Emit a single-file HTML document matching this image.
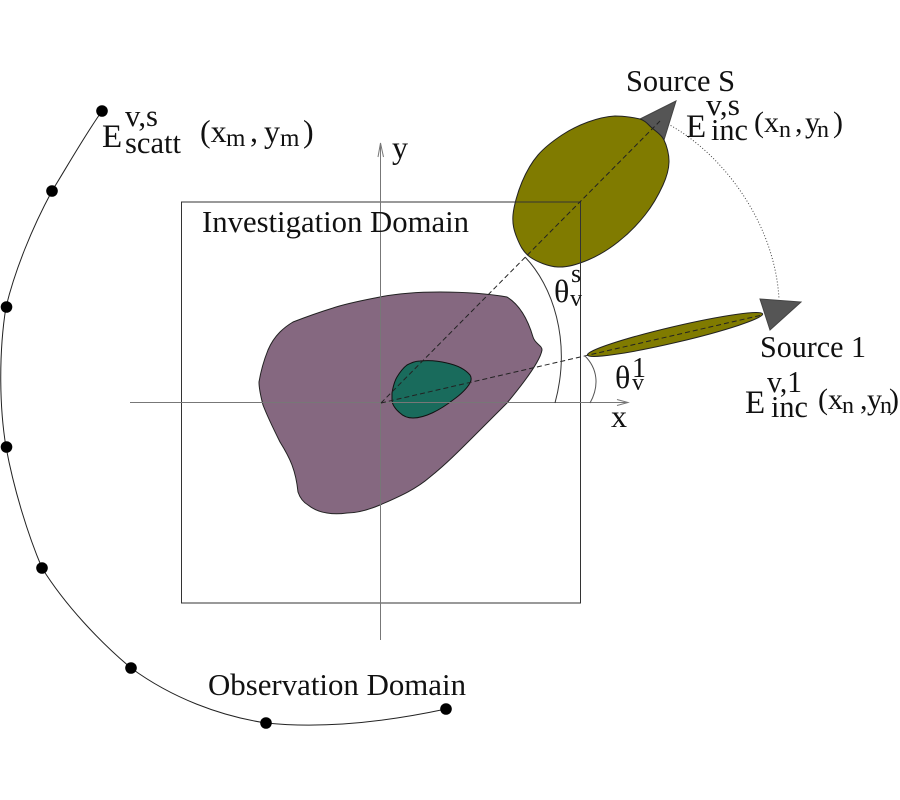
<!DOCTYPE html>
<html><head><meta charset="utf-8"><style>
html,body{margin:0;padding:0;background:#fff}
svg{display:block}
text{font-family:"Liberation Serif",serif;fill:#111}
</style></head><body>
<svg width="900" height="800" viewBox="0 0 900 800" xmlns="http://www.w3.org/2000/svg">
<!-- purple object -->
<path d="M293 322 C306 317 320 312 333 308 C348 303 365 300 380 297 C400 293 420 292 440 292 C465 292 490 294 507 297 C520 305 528 320 533 337 C535 344 542 345 542 350 C540 362 522 385 507 403 C495 415 485 425 473 437 C458 452 445 465 430 477 C415 490 398 497 380 505 C368 510 358 513 347 513 C340 514 333 514 327 513 C320 512 313 509 308 505 C303 502 300 498 298 492 C297 482 295 473 292 465 C289 457 285 450 280 442 C274 430 268 418 263 405 C261 397 259 390 259 382 C261 370 264 360 268 350 C271 343 275 337 280 332 C284 328 288 325 293 322 Z" fill="#856880" stroke="#222" stroke-width="1"/>
<!-- green object -->
<path d="M392 393 C393 387 394 382 397 377 C400 372 403 368 407 365 C411 363 415 361 420 361 C430 360 439 361 447 363 C456 365 465 369 470 375 C472 378 471 381 470 383 C466 390 460 395 453 400 C440 410 425 418 413 418 C408 418 403 416 400 413 C395 409 392 404 392 400 Z" fill="#196b5c" stroke="#111" stroke-width="1"/>
<!-- source S triangle and ellipse -->
<polygon points="676,101 640,119 664,140" fill="#555" stroke="#444" stroke-width="1"/>
<path d="M615 116 C606.300 116.500 596.800 118.800 588 122 C579.200 125.200 570.300 129.500 562 135 C553.700 140.500 544.700 147.200 538 155 C531.300 162.800 526.200 172 522 182 C517.800 192 513.800 205.700 513 215 C512.200 224.300 514.200 231 517 238 C519.800 245 523.200 252.200 530 257 C536.800 261.800 548.300 266.500 558 267 C567.700 267.500 578 264.200 588 260 C598 255.800 608.500 249.500 618 242 C627.500 234.500 637.500 224.500 645 215 C652.500 205.500 659 193.800 663 185 C667 176.200 668.800 169.500 669 162 C669.200 154.500 666.800 145.700 664 140 C661.200 134.300 656 131.500 652 128 C648 124.500 646 121 640 119 C636 118 625 116 615 116 Z" fill="#807b00" stroke="#222" stroke-width="1"/>
<!-- source 1 triangle and ellipse -->
<polygon points="760,299 801,302 770,330" fill="#555" stroke="#444" stroke-width="1"/>
<ellipse cx="675" cy="334.500" rx="90" ry="8" transform="rotate(-13.2 675 334.500)" fill="#807b00" stroke="#222" stroke-width="1"/>
<!-- domain & axes -->
<rect x="181.500" y="202" width="399" height="401" fill="none" stroke="#333" stroke-width="1"/>
<path d="M130 402.500 H628 M617 399.500 L628 402.500 L617 405.500" fill="none" stroke="#777" stroke-width="1"/>
<path d="M380.500 640 V143 M378 157 L380.500 143 L383.500 157" fill="none" stroke="#777" stroke-width="1"/>
<!-- dashed rays -->
<path d="M381 403 L660 121" stroke="#222" stroke-width="1" stroke-dasharray="5 3" fill="none"/>
<path d="M381 403 L762 315" stroke="#222" stroke-width="1" stroke-dasharray="5 3" fill="none"/>
<!-- angle arcs -->
<path d="M525 257 C552 285 572 340 555 403" fill="none" stroke="#333" stroke-width="1"/>
<path d="M585 356 C597 368 600 385 590 403" fill="none" stroke="#555" stroke-width="1"/>
<!-- dotted arc -->
<path d="M668 124 C725 155 775 225 779 299" fill="none" stroke="#444" stroke-width="1" stroke-dasharray="1 2"/>
<!-- observation curve -->
<path d="M102 111 C85 135 68 165 52 191 C32 228 15 270 6 307 C-1 350 -1 405 6 447 C14 490 28 535 42 568 C65 605 100 642 131 668 C172 698 220 716 266 723 C325 729 390 721 446 709" fill="none" stroke="#222" stroke-width="1"/>
<g fill="#000">
<circle cx="102" cy="111" r="5.800"/><circle cx="52" cy="191" r="5.800"/><circle cx="6.500" cy="307" r="5.800"/><circle cx="6.500" cy="447" r="5.800"/><circle cx="42" cy="568" r="5.800"/><circle cx="131" cy="668" r="5.800"/><circle cx="266" cy="723" r="5.800"/><circle cx="446" cy="709" r="5.800"/>
</g>
<!-- labels -->
<text x="202" y="232" font-size="31" textLength="267" lengthAdjust="spacingAndGlyphs">Investigation Domain</text>
<text x="208" y="695" font-size="31" textLength="258" lengthAdjust="spacingAndGlyphs">Observation Domain</text>
<text x="626" y="91" font-size="31" textLength="109" lengthAdjust="spacingAndGlyphs">Source S</text>
<text x="760" y="357" font-size="31" textLength="106" lengthAdjust="spacingAndGlyphs">Source 1</text>
<text x="392" y="158" font-size="32">y</text>
<text x="611" y="427" font-size="32">x</text>

<text x="102" y="147" font-size="33">E</text>
<text x="125" y="126" font-size="31" textLength="33" lengthAdjust="spacingAndGlyphs">v,s</text>
<text x="125" y="153" font-size="31" textLength="56" lengthAdjust="spacingAndGlyphs">scatt</text>
<text x="200" y="142" font-size="32">(x</text>
<text x="226" y="146" font-size="25">m</text>
<text x="250" y="142" font-size="32">,</text>
<text x="264" y="142" font-size="32">y</text>
<text x="280" y="146" font-size="25">m</text>
<text x="303" y="142" font-size="32">)</text>

<text x="686" y="137" font-size="33">E</text>
<text x="706" y="115" font-size="31" textLength="34" lengthAdjust="spacingAndGlyphs">v,s</text>
<text x="711" y="140" font-size="31" textLength="37" lengthAdjust="spacingAndGlyphs">inc</text>
<text x="754" y="132" font-size="30">(x</text>
<text x="779" y="137" font-size="24">n</text>
<text x="795" y="132" font-size="30">,</text>
<text x="805" y="132" font-size="30">y</text>
<text x="817" y="137" font-size="24">n</text>
<text x="833" y="132" font-size="30">)</text>

<text x="745" y="413" font-size="33">E</text>
<text x="767" y="392" font-size="31" textLength="35" lengthAdjust="spacingAndGlyphs">v,1</text>
<text x="771" y="417" font-size="31" textLength="37" lengthAdjust="spacingAndGlyphs">inc</text>
<text x="818" y="409" font-size="30">(x</text>
<text x="842" y="413" font-size="24">n</text>
<text x="860" y="409" font-size="30">,</text>
<text x="867" y="409" font-size="30">y</text>
<text x="880" y="413" font-size="24">n</text>
<text x="889" y="409" font-size="30">)</text>

<text x="554" y="302" font-size="32">θ</text>
<text x="570" y="306" font-size="24">v</text>
<text x="571" y="282" font-size="26">s</text>
<text x="615" y="388" font-size="32">θ</text>
<text x="632" y="390" font-size="24">v</text>
<text x="632" y="377" font-size="28">1</text>
</svg>
</body></html>
